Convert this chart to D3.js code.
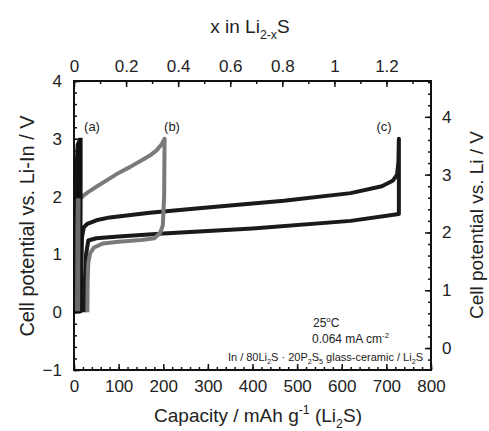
<!DOCTYPE html>
<html>
<head>
<meta charset="utf-8">
<script src="https://cdn.jsdelivr.net/npm/d3@7"></script>
<style>
  body { margin: 0; background: #fff; }
  svg { display: block; font-family: "Liberation Sans", Arial, sans-serif; }
</style>
</head>
<body>
<svg id="chart" width="489" height="431"></svg>
<script>
// ticks
const capTicks = [0, 100, 200, 300, 400, 500, 600, 700, 800];
const xTicks = [0, 0.2, 0.4, 0.6, 0.8, 1, 1.2];
const liInTicks = [-1, 0, 1, 2, 3, 4];
const liTicks = [0, 1, 2, 3, 4];

// curve (a)
const aCap = [0, 1, 3, 6, 12, 17, 17, 16, 0];
const aV   = [0, 1.5, 2.4, 2.9, 3.0, 3.0, 2.0, 0, 0];

// curve (b), grey
const bChargeCap = [30, 30.5, 32, 36, 45, 65, 100, 150, 180, 193, 199, 202, 203];
const bChargeV   = [0, 0.5, 0.85, 1.02, 1.12, 1.19, 1.22, 1.25, 1.28, 1.37, 1.5, 2.0, 3.0];
const bDischCap  = [203, 196, 185, 170, 150, 125, 100, 75, 50, 30, 20, 17];
const bDischV    = [3.0, 2.9, 2.8, 2.71, 2.62, 2.51, 2.41, 2.29, 2.17, 2.07, 2.01, 1.97];

// curve (c), black
const cChargeCap = [16, 16.5, 18, 22, 30, 50, 80, 170, 280, 470, 620, 690, 715, 724, 727, 728];
const cChargeV   = [0, 0.8, 1.3, 1.47, 1.53, 1.59, 1.64, 1.72, 1.80, 1.93, 2.06, 2.18, 2.28, 2.38, 2.6, 3.0];
const cDischCap  = [728, 728, 620, 400, 200, 100, 50, 32, 27, 25, 24];
const cDischV    = [3.0, 1.70, 1.58, 1.45, 1.36, 1.31, 1.28, 1.24, 1.0, 0.5, 0];

const liOffset = 0.62;      // Li-In -> Li
const capPerX = 583.5;      // mAh/g per x in Li2-xS

const L = 74, R = 431, T = 81, B = 370;
const svg = d3.select("#chart");

const x = d3.scaleLinear().domain([0, 800]).range([L, R]);
const xTop = d3.scaleLinear().domain([0, 800 / capPerX]).range([L, R]);
const y = d3.scaleLinear().domain([-1, 4]).range([B, T]);
const yR = d3.scaleLinear().domain([-1 + liOffset, 4 + liOffset]).range([B, T]);

const zip = (cs, vs) => cs.map((c, i) => [c, vs[i]]);
const line = d3.line().x(d => x(d[0])).y(d => y(d[1]));

// rich text with sub / sup
function rich(sel, parts, size) {
  let shift = 0;
  parts.forEach(p => {
    const t = sel.append("tspan").text(p[0]);
    let target = 0;
    if (p[1] === "sub") target = size * 0.3;
    if (p[1] === "sup") target = -size * 0.4;
    t.attr("dy", target - shift);
    if (p[1]) t.attr("font-size", size * 0.65);
    shift = target;
  });
}

// minor ticks
const minor = (axis, scale, vals, size) => axis(scale).tickValues(vals).tickSize(size).tickFormat("");

const gB = svg.append("g").attr("transform", `translate(0,${B})`);
gB.call(minor(d3.axisBottom, x, d3.range(0, 801, 20), -3));
gB.append("g").call(d3.axisBottom(x).tickValues(capTicks).tickSize(-6).tickPadding(10).tickFormat(d3.format("d")));

const gT = svg.append("g").attr("transform", `translate(0,${T})`);
gT.call(minor(d3.axisTop, xTop, d3.range(0, 1.35, 0.1), -3));
gT.append("g").call(d3.axisTop(xTop).tickValues(xTicks).tickSize(-6).tickPadding(9).tickFormat(d => d3.format("~g")(d)));

const gL = svg.append("g").attr("transform", `translate(${L},0)`);
gL.call(minor(d3.axisLeft, y, d3.range(-1, 4.01, 0.2), -3));
gL.append("g").call(d3.axisLeft(y).tickValues(liInTicks).tickSize(-6).tickPadding(12).tickFormat(d3.format("d")));

const gR = svg.append("g").attr("transform", `translate(${R},0)`);
gR.call(minor(d3.axisRight, yR, d3.range(-0.2, 4.61, 0.2), -3));
gR.append("g").call(d3.axisRight(yR).tickValues(liTicks).tickSize(-6).tickPadding(11).tickFormat(d3.format("d")));

svg.selectAll(".domain").remove();
svg.selectAll(".tick line").attr("stroke", "#111").attr("stroke-width", 1.5);
svg.selectAll(".tick text").attr("font-size", 17).attr("fill", "#222").attr("font-family", null);

// frame
svg.append("rect").attr("x", L).attr("y", T).attr("width", R - L).attr("height", B - T)
  .attr("fill", "none").attr("stroke", "#111").attr("stroke-width", 2);

// curve (c)
svg.append("path").datum(zip(cChargeCap, cChargeV).concat(zip(cDischCap, cDischV)))
  .attr("d", line).attr("fill", "none").attr("stroke", "#1a1a1a")
  .attr("stroke-width", 4).attr("stroke-linejoin", "round");

// curve (b)
svg.append("path").datum(zip(bChargeCap, bChargeV).concat(zip(bDischCap, bDischV)))
  .attr("d", line.curve(d3.curveLinear)).attr("fill", "none").attr("stroke", "#7a7a7a")
  .attr("stroke-width", 4).attr("stroke-linejoin", "round");

// curve (a)
const aPts = zip(aCap, aV);
svg.append("defs").append("clipPath").attr("id", "aTop")
  .append("rect").attr("x", L).attr("y", y(3.1)).attr("width", 40).attr("height", y(1.97) - y(3.1));
svg.append("path").datum(aPts).attr("d", line).attr("fill", "#6a6a6a").attr("stroke", "none");
svg.append("path").datum(aPts).attr("d", line).attr("fill", "#111").attr("clip-path", "url(#aTop)");
svg.append("path").datum(aPts).attr("d", line).attr("fill", "none").attr("stroke", "#111").attr("stroke-width", 2);

// labels
const lab = [["(a)", 92], ["(b)", 172], ["(c)", 384]];
svg.selectAll(".lab").data(lab).enter().append("text")
  .attr("x", d => d[1]).attr("y", 131).attr("text-anchor", "middle")
  .attr("font-size", 13).attr("fill", "#222").text(d => d[0]);

const n1 = svg.append("text").attr("x", 313).attr("y", 327).attr("font-size", 12).attr("fill", "#222");
rich(n1, [["25"], ["o", "sup"], ["C"]], 12);
const n2 = svg.append("text").attr("x", 312).attr("y", 343).attr("font-size", 12).attr("fill", "#222");
rich(n2, [["0.064 mA cm"], ["-2", "sup"]], 12);
const n3 = svg.append("text").attr("x", 423).attr("y", 361).attr("font-size", 11).attr("fill", "#222")
  .attr("text-anchor", "end");
rich(n3, [["In / 80Li"], ["2", "sub"], ["S \u00b7 20P"], ["2", "sub"], ["S"], ["5", "sub"], [" glass-ceramic / Li"], ["2", "sub"], ["S"]], 11);

// axis titles
const tTop = svg.append("text").attr("x", 250).attr("y", 33).attr("text-anchor", "middle").attr("font-size", 19).attr("fill", "#222");
rich(tTop, [["x in Li"], ["2-x", "sub"], ["S"]], 19);
const tBot = svg.append("text").attr("x", 258).attr("y", 422).attr("text-anchor", "middle").attr("font-size", 19).attr("fill", "#222");
rich(tBot, [["Capacity / mAh g"], ["-1", "sup"], [" (Li"], ["2", "sub"], ["S)"]], 19);
svg.append("text").attr("transform", "translate(34,226) rotate(-90)").attr("text-anchor", "middle")
  .attr("font-size", 20).attr("fill", "#222").text("Cell potential vs. Li-In / V");
svg.append("text").attr("transform", "translate(483,225) rotate(-90)").attr("text-anchor", "middle")
  .attr("font-size", 19).attr("fill", "#222").text("Cell potential vs. Li / V");
</script>
</body>
</html>
